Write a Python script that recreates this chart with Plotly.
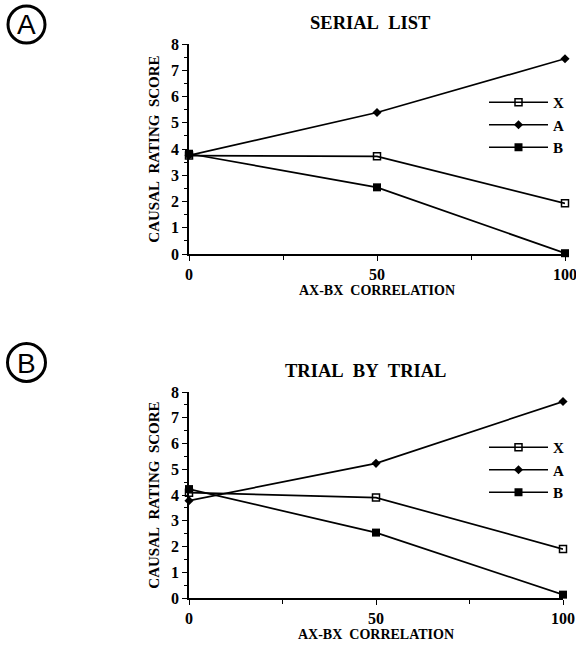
import plotly.graph_objects as go

correlation = [0, 50, 100]
serial_X = [3.75, 3.72, 1.93]
serial_A = [3.76, 5.39, 7.44]
serial_B = [3.82, 2.54, 0.03]
trial_X = [4.09, 3.90, 1.90]
trial_A = [3.78, 5.23, 7.63]
trial_B = [4.23, 2.54, 0.13]
y_ticks = [0, 1, 2, 3, 4, 5, 6, 7, 8]
x_ticks = [0, 50, 100]

W, H = 576, 645
FONT = "Liberation Serif"

fig = go.Figure()

styles = {
    "X": dict(symbol="square-open", size=7, line=dict(width=1.5, color="black")),
    "A": dict(symbol="diamond", size=7),
    "B": dict(symbol="square", size=8),
}

panels = [
    ("x", "y", "legend", {"X": serial_X, "A": serial_A, "B": serial_B}),
    ("x2", "y2", "legend2", {"X": trial_X, "A": trial_A, "B": trial_B}),
]
for xa, ya, lg, data in panels:
    for name in ["X", "A", "B"]:
        fig.add_trace(go.Scatter(
            x=correlation, y=data[name], name=name, mode="lines+markers",
            line=dict(color="black", width=1.7),
            marker=dict(color="black", **styles[name]),
            xaxis=xa, yaxis=ya, legend=lg, cliponaxis=False,
        ))

def py(p):
    return 1 - p / H

def px(p):
    return p / W

axis_common = dict(
    showgrid=False, zeroline=False, showline=True, linecolor="black", linewidth=1.6,
    ticks="outside", ticklen=5, tickwidth=1.3, tickcolor="black", automargin=False,
    ticklabeloverflow="allow",
    tickfont=dict(family=FONT, size=16, color="black", weight="bold"),
)
xa_common = dict(axis_common, range=[0, 100], tickvals=x_ticks,
                 minor=dict(dtick=25, ticks="outside", ticklen=4, tickcolor="black", tickwidth=1),
                 title=dict(text="AX-BX\u00a0\u00a0CORRELATION", standoff=1,
                            font=dict(family=FONT, size=14, color="black", weight="bold")))
ya_common = dict(axis_common, range=[0, 8], tickvals=y_ticks,
                 minor=dict(dtick=0.5, ticks="outside", ticklen=3, tickcolor="black", tickwidth=1),
                 title=dict(text="CAUSAL\u00a0\u00a0RATING\u00a0\u00a0SCORE", standoff=8,
                            font=dict(family=FONT, size=15, color="black", weight="bold")))

legend_common = dict(
    font=dict(family=FONT, size=15, color="black", weight="bold"),
    bgcolor="rgba(0,0,0,0)", borderwidth=0, itemwidth=59, tracegroupgap=0,
    xanchor="left", yanchor="top", itemclick=False,
)

def label(text, x, y, size, family=FONT, bold=True):
    return dict(text=text, x=px(x), y=py(y), xref="paper", yref="paper", showarrow=False,
                xanchor="center", yanchor="middle",
                font=dict(family=family, size=size, color="black", weight="bold" if bold else "normal"))

def ring(cx, cy, r):
    return dict(type="circle", xref="paper", yref="paper",
                x0=px(cx - r), x1=px(cx + r), y0=py(cy + r), y1=py(cy - r),
                line=dict(color="black", width=3))

fig.update_layout(
    width=W, height=H, plot_bgcolor="white", paper_bgcolor="white",
    margin=dict(l=0, r=0, t=0, b=0, autoexpand=False),
    xaxis=dict(xa_common, domain=[px(189), px(565)], anchor="y"),
    yaxis=dict(ya_common, domain=[py(254), py(44)], anchor="x"),
    xaxis2=dict(xa_common, domain=[px(189), px(563)], anchor="y2"),
    yaxis2=dict(ya_common, domain=[py(598), py(392)], anchor="x2"),
    legend=dict(legend_common, x=px(484), y=py(86)),
    legend2=dict(legend_common, x=px(484), y=py(431)),
    annotations=[
        label("SERIAL\u00a0\u00a0LIST", 370, 23, 18.5),
        label("TRIAL\u00a0\u00a0BY\u00a0\u00a0TRIAL", 365, 371, 18.5),
        label("A", 26.5, 25, 28, family="Liberation Sans", bold=False),
        label("B", 26.5, 363, 28, family="Liberation Sans", bold=False),
    ],
    shapes=[ring(26.5, 24.5, 18.5), ring(26.5, 362.5, 19)],
)

fig.write_html("out.html", config={"displayModeBar": False},
               post_script="document.body.style.margin='0';")
